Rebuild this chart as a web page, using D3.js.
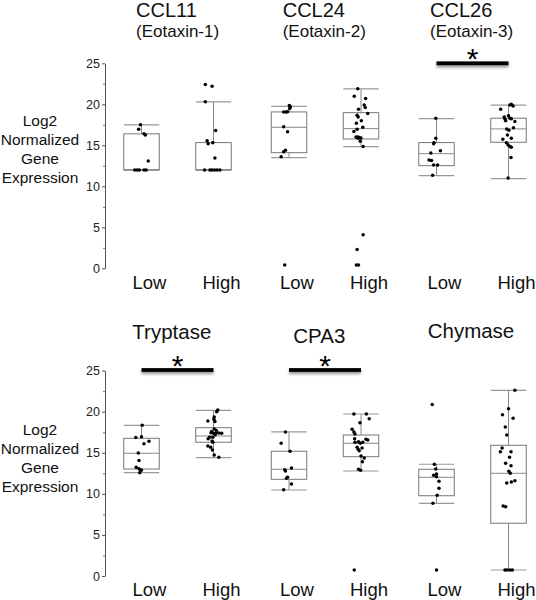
<!DOCTYPE html>
<html>
<head>
<meta charset="utf-8">
<script src="https://cdn.jsdelivr.net/npm/d3@7/dist/d3.min.js"></script>
<style>
  html, body { margin: 0; padding: 0; background: #fff; }
  svg { display: block; font-family: "Liberation Sans", Arial, Helvetica, sans-serif; }
</style>
</head>
<body>
<svg id="chart" width="536" height="600"></svg>
<script>
// ---------------- DATA ----------------
const genesTop = ["CCL11", "CCL24", "CCL26"];
const subtitlesTop = ["(Eotaxin-1)", "(Eotaxin-2)", "(Eotaxin-3)"];
const genesBottom = ["Tryptase", "CPA3", "Chymase"];
const groups = ["Low", "High"];
const yTicks = [0, 5, 10, 15, 20, 25];
const yMinorTicks = [2.5, 7.5, 12.5, 17.5, 22.5];
const yLabelLines = ["Log2", "Normalized", "Gene", "Expression"];
const sigTop = ["CCL26"];
const sigBottom = ["Tryptase", "CPA3"];

// box stats: [lower whisker, Q1, median, Q3, upper whisker]
const ccl11LowBox = [12, 12, 12, 16.4, 17.5];
const ccl11HighBox = [12, 12, 12, 15.33, 20.3];
const ccl24LowBox = [13.5, 14.1, 17.2, 19.07, 19.75];
const ccl24HighBox = [14.84, 15.77, 17.03, 18.98, 21.87];
const ccl26LowBox = [11.3, 12.52, 13.98, 15.33, 18.25];
const ccl26HighBox = [10.93, 15.37, 17.0, 18.3, 19.9];
const tryptaseLowBox = [12.57, 13.02, 14.94, 16.76, 18.34];
const tryptaseHighBox = [14.4, 16.28, 17.04, 18.05, 20.17];
const cpa3LowBox = [10.47, 11.77, 12.99, 15.18, 17.53];
const cpa3HighBox = [12.78, 14.52, 16.15, 17.16, 19.72];
const chymaseLowBox = [8.85, 9.77, 12.01, 12.99, 13.6];
const chymaseHighBox = [0.73, 6.42, 12.5, 15.91, 22.6];

// points: [value, jitter (fraction of box width)]
const ccl11LowPts = [[17.5,-0.03],[16.95,-0.08],[16.4,0.07],[16.25,0.11],[13.1,0.19],
  [12,-0.19],[12,-0.12],[12,-0.06],[12,0.07],[12,0.13]];
const ccl11HighPts = [[22.4,-0.23],[22.2,-0.04],[20.3,-0.23],[16.8,0.06],[15.57,-0.18],[15.2,-0.15],
  [15.3,-0.02],[13.45,0.04],[12,-0.25],[12,-0.10],[12,-0.04],[12,0.03],[12,0.10],[12,0.18]];
const ccl24LowPts = [[19.85,0.01],[19.7,0.04],[19.5,0.02],[19.05,-0.15],[19.05,-0.08],[19.1,-0.04],
  [17.25,-0.15],[16.65,-0.04],[14.2,-0.15],[14.4,-0.10],[13.6,-0.22],[0.4,-0.12]];
const ccl24HighPts = [[21.9,-0.09],[20.97,-0.19],[20.7,0.13],[19.9,0.09],[19.6,0.12],[19.4,-0.07],
  [18.87,0.19],[18.66,-0.11],[18.45,-0.08],[18.0,0.01],[17.7,-0.13],[17.2,0.05],[16.95,-0.11],
  [16.67,-0.2],[16.0,-0.14],[16.0,-0.09],[15.95,-0.05],[15.9,0],[15.85,-0.08],[15.5,-0.02],
  [14.84,0.06],[4.1,0.06],[2.28,-0.11],[0.4,-0.13],[0.4,-0.07]];
const ccl26LowPts = [[18.3,-0.02],[15.85,-0.02],[15.3,-0.07],[15.2,-0.08],[14.35,0.11],[14.05,-0.16],
  [13.2,-0.21],[13.15,-0.14],[12.6,-0.08],[12.6,0.03],[11.35,-0.11]];
const ccl26HighPts = [[20.0,0.08],[19.9,0.04],[19.8,0.13],[19.4,-0.22],[18.6,0],[18.3,0.04],[18.25,0.08],
  [18.2,-0.1],[18.0,-0.08],[17.9,0.18],[17.0,-0.05],[16.85,0.01],[17.15,0.14],[16.25,-0.03],
  [15.85,0.08],[15.75,-0.16],[15.05,-0.01],[14.85,0.04],[14.75,0.08],[13.5,0.07],[11.0,-0.01],
  [18.45,-0.12],[15.3,-0.06]];
const tryptaseLowPts = [[18.35,0.02],[16.85,-0.16],[16.95,0],[16.1,0.07],[16.4,0.21],[14.97,-0.09],
  [14.05,-0.07],[13.23,-0.15],[13.06,-0.07],[12.78,-0.03],[12.9,0],[12.58,-0.05]];
const tryptaseHighPts = [[20.2,0.12],[20.0,0.09],[19.35,0.02],[19.07,0.01],[18.87,-0.16],[18.8,0.04],
  [17.9,0.02],[17.7,0.08],[17.45,-0.07],[17.37,0],[17.45,0.08],[17.4,0.15],[17.37,0.23],
  [16.88,-0.11],[16.72,-0.15],[16.43,-0.04],[16.27,-0.02],[15.82,-0.16],[15.66,-0.08],
  [15.34,-0.03],[14.73,0.02],[14.45,0.15],[17.2,0.05],[16.9,-0.02],[17.6,-0.05]];
const cpa3LowPts = [[17.53,-0.1],[16.15,-0.22],[15.18,0.03],[12.94,-0.12],[12.78,-0.1],[13.15,0.07],
  [11.89,-0.07],[12.01,-0.04],[11.2,0.07],[10.5,-0.15]];
const cpa3HighPts = [[19.72,-0.2],[19.72,0.15],[19.15,0.23],[18.66,-0.03],[17.86,-0.25],[17.53,-0.2],
  [17.29,-0.17],[16.71,-0.18],[16.64,0.14],[16.56,0.19],[16.35,-0.07],[16.15,-0.02],[16.27,0.05],
  [16.27,-0.17],[15.66,-0.11],[15.42,-0.08],[15.58,0.03],[15.25,-0.05],[14.6,0],[14.36,0.09],
  [13.92,0.04],[12.99,-0.07],[12.86,-0.01],[0.73,-0.19]];
const chymaseLowPts = [[20.86,-0.12],[13.6,-0.06],[13.02,-0.02],[12.25,-0.08],[12.42,0],[12.09,0],
  [11.53,0.07],[10.68,0.07],[9.82,0.02],[8.85,-0.1],[0.73,0]];
const chymaseHighPts = [[22.6,0.18],[20.37,0],[19.64,-0.17],[19.2,0.13],[18.14,-0.09],[17.16,-0.05],
  [15.58,-0.18],[15.13,-0.23],[15.13,0.07],[14.45,0.03],[13.72,-0.08],[13.43,0.07],[12.75,0.01],
  [12.5,0.05],[11.6,0.18],[11.44,0.08],[11.32,-0.05],[8.52,-0.15],[8.44,-0.08],
  [0.73,-0.1],[0.73,-0.04],[0.73,0.04],[0.73,0.11]];

const topBoxes = { CCL11: [ccl11LowBox, ccl11HighBox], CCL24: [ccl24LowBox, ccl24HighBox], CCL26: [ccl26LowBox, ccl26HighBox] };
const topPts = { CCL11: [ccl11LowPts, ccl11HighPts], CCL24: [ccl24LowPts, ccl24HighPts], CCL26: [ccl26LowPts, ccl26HighPts] };
const botBoxes = { Tryptase: [tryptaseLowBox, tryptaseHighBox], CPA3: [cpa3LowBox, cpa3HighBox], Chymase: [chymaseLowBox, chymaseHighBox] };
const botPts = { Tryptase: [tryptaseLowPts, tryptaseHighPts], CPA3: [cpa3LowPts, cpa3HighPts], Chymase: [chymaseLowPts, chymaseHighPts] };

// ---------------- LAYOUT ----------------
const svg = d3.select("#chart");
const boxW = 35.5;
const axisX = 105;

const defs = svg.append("defs");
const f = defs.append("filter").attr("id", "shadow").attr("filterUnits", "userSpaceOnUse")
  .attr("x", 0).attr("y", 0).attr("width", 536).attr("height", 600);
f.append("feDropShadow").attr("dx", 0).attr("dy", 2).attr("stdDeviation", 1.6)
  .attr("flood-color", "#000").attr("flood-opacity", 0.45);

function drawPanel(cfg) {
  const g = svg.append("g");
  const y = d3.scaleLinear().domain([0, 25]).range([cfg.y0, cfg.y25]);
  const xGene = d3.scalePoint().domain(cfg.genes).range([177.5, 472.5]);
  const xGroup = d3.scalePoint().domain(groups).range([-36, 36]);
  const jit = d3.scaleLinear().domain([-0.5, 0.5]).range([-boxW / 2, boxW / 2]);
  const cx = (gene, grp) => xGene(gene) + xGroup(grp);

  // y axis
  const ax = g.append("g").attr("transform", `translate(${axisX},0)`)
    .call(d3.axisLeft(y).tickValues(yTicks).tickSize(3).tickSizeOuter(0).tickPadding(2));
  ax.select(".domain").attr("stroke", "#555");
  ax.selectAll(".tick line").attr("stroke", "#555");
  ax.selectAll(".tick text").attr("fill", "#222").style("font-size", "12.5px");
  const axm = g.append("g").attr("transform", `translate(${axisX},0)`)
    .call(d3.axisLeft(y).tickValues(yMinorTicks).tickSize(2).tickSizeOuter(0).tickFormat(""));
  axm.select(".domain").remove();
  axm.selectAll(".tick line").attr("stroke", "#777");

  // y label
  g.append("text").attr("text-anchor", "middle").style("font-size", "15.5px").attr("fill", "#111")
    .selectAll("tspan").data(yLabelLines).join("tspan")
    .attr("x", 40).attr("y", (d, i) => cfg.labelY + i * 19.2).text(d => d);

  cfg.genes.forEach((gene) => {
    groups.forEach((grp, k) => {
      const s = cfg.boxes[gene][k];
      const c = cx(gene, grp);
      const bg = g.append("g");
      // whiskers
      bg.append("line").attr("x1", c).attr("x2", c).attr("y1", y(s[0])).attr("y2", y(s[1])).attr("stroke", "#888");
      bg.append("line").attr("x1", c).attr("x2", c).attr("y1", y(s[3])).attr("y2", y(s[4])).attr("stroke", "#888");
      // caps
      [s[0], s[4]].forEach(v => bg.append("line").attr("x1", c - boxW / 2).attr("x2", c + boxW / 2)
        .attr("y1", y(v)).attr("y2", y(v)).attr("stroke", "#999").attr("stroke-width", 1.2));
      // box
      bg.append("rect").attr("x", c - boxW / 2).attr("width", boxW)
        .attr("y", y(s[3])).attr("height", Math.max(0.5, y(s[1]) - y(s[3])))
        .attr("fill", "none").attr("stroke", "#777");
      bg.append("line").attr("x1", c - boxW / 2).attr("x2", c + boxW / 2)
        .attr("y1", y(s[2])).attr("y2", y(s[2])).attr("stroke", "#888");
      // points
      bg.selectAll("circle").data(cfg.pts[gene][k]).join("circle")
        .attr("cx", d => c + jit(d[1])).attr("cy", d => y(d[0])).attr("r", 1.75).attr("fill", "#000");
      // x label
      g.append("text").attr("x", c + 8).attr("y", cfg.xLabelY).attr("text-anchor", "middle")
        .style("font-size", "18.5px").attr("fill", "#111").text(grp);
    });
    // significance bar
    if (cfg.sig.includes(gene)) {
      const x1 = cx(gene, "Low"), x2 = cx(gene, "High");
      g.append("rect").attr("x", x1).attr("width", x2 - x1).attr("y", cfg.sigY - 1.9).attr("height", 3.8)
        .attr("fill", "#000").attr("filter", "url(#shadow)");
      g.append("text").attr("x", (x1 + x2) / 2).attr("y", cfg.sigY + 6).attr("text-anchor", "middle")
        .style("font-size", "30px").attr("fill", "#000").text("*");
    }
  });
}

drawPanel({ genes: genesTop, boxes: topBoxes, pts: topPts, y0: 268.3, y25: 63.3, labelY: 125.7, xLabelY: 288.5, sig: sigTop, sigY: 63.3 });
drawPanel({ genes: genesBottom, boxes: botBoxes, pts: botPts, y0: 576, y25: 370.6, labelY: 434.7, xLabelY: 595.8, sig: sigBottom, sigY: 370 });

// titles
const topTitleX = [136, 282.7, 430];
svg.append("g").selectAll("text").data(genesTop).join("text")
  .attr("x", (d, i) => topTitleX[i]).attr("y", 16.5).style("font-size", "20px").attr("fill", "#111").text(d => d);
svg.append("g").selectAll("text").data(subtitlesTop).join("text")
  .attr("x", (d, i) => topTitleX[i]).attr("y", 36.5).style("font-size", "17px").attr("fill", "#111").text(d => d);
const botTitleX = [132.3, 293.3, 427.7];
const botTitleY = [338.5, 342.7, 337.7];
svg.append("g").selectAll("text").data(genesBottom).join("text")
  .attr("x", (d, i) => botTitleX[i]).attr("y", (d, i) => botTitleY[i]).style("font-size", "20.5px").attr("fill", "#111").text(d => d);
</script>
</body>
</html>
